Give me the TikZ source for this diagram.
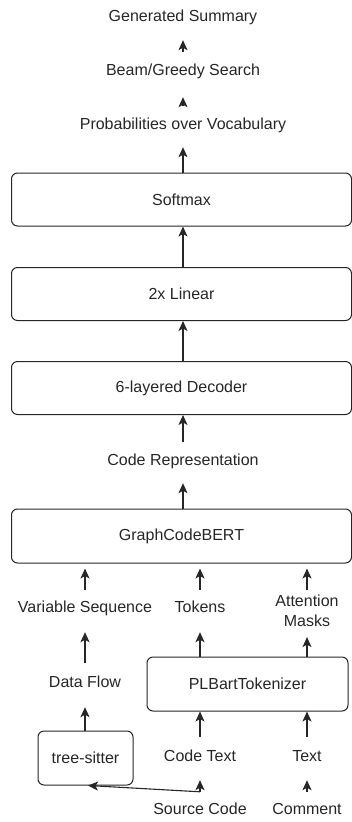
\documentclass[tikz,border=0pt]{standalone}
\usepackage{fontspec}
\setmainfont{Liberation Sans}
\usetikzlibrary{arrows.meta,calc}
\begin{document}
\begin{tikzpicture}[x=1pt,y=-1pt,
  every node/.style={text=black!85},
  lbl/.style={font=\fontsize{16}{20}\selectfont, inner sep=0pt, text height=11pt, text depth=4pt},
  lbl2/.style={font=\fontsize{16}{20}\selectfont, inner sep=0pt, align=center},
  blk/.style={draw=black!85, line width=1pt, rounded corners=6pt, font=\fontsize{16}{20}\selectfont, inner sep=0pt},
  arr/.style={draw=black!85, line width=1.1pt, -{Stealth[length=10pt,width=9pt,inset=2.5pt]}}
]
\useasboundingbox (0,0) rectangle (351,822);

% top text labels
\node[lbl] (gen)  at (183,18)  {Generated Summary};
\node[lbl] (beam) at (183,72)  {Beam/Greedy Search};
\node[lbl] (prob) at (183,126) {Probabilities over Vocabulary};

% main blocks
\node[blk, minimum width=340pt, minimum height=53pt] (softmax) at (181.5,199.5) {Softmax};
\node[blk, minimum width=340pt, minimum height=53pt] (linear)  at (181.5,294) {2x Linear};
\node[blk, minimum width=340pt, minimum height=53pt] (decoder) at (181.5,388) {6-layered Decoder};
\node[lbl] (coderep) at (183,462) {Code Representation};
\node[blk, minimum width=340pt, minimum height=54pt] (gcb) at (181.5,536) {GraphCodeBERT};

% inputs
\node[lbl] (varseq) at (85,609) {Variable Sequence};
\node[lbl] (tokens) at (200,609) {Tokens};
\node[lbl2] (attn) at (307,611) {Attention\\Masks};
\node[lbl] (dataflow) at (85,684) {Data Flow};
\node[blk, minimum width=201pt, minimum height=54pt] (plbart) at (247.5,684) {PLBartTokenizer};
\node[blk, minimum width=95pt, minimum height=54pt] (tree) at (85.5,758) {tree-sitter};
\node[lbl] (codetext) at (200,758) {Code Text};
\node[lbl] (text) at (307,758) {Text};
\node[lbl] (source) at (200,811) {Source Code};
\node[lbl] (comment) at (307,811) {Comment};

% connectors (top part)
\draw[arr, shorten <=12.5pt, shorten >=14.5pt] (beam) -- (gen);
\draw[arr, shorten <=12.5pt, shorten >=17.5pt] (prob) -- (beam);
\draw[arr, shorten >=13.5pt] (softmax.north -| prob) -- (prob.south);
\draw[arr] (linear.north -| prob) -- (softmax.south -| prob);
\draw[arr] (decoder.north -| prob) -- (linear.south -| prob);
\draw[arr, shorten <=12.5pt] (coderep.north) -- (decoder.south -| coderep);
\draw[arr, shorten >=13.5pt] (gcb.north -| coderep) -- (coderep.south);

% into GraphCodeBERT
\draw[arr, shorten <=11.5pt, shorten >=5pt] (varseq.north) -- (gcb.south -| varseq);
\draw[arr, shorten <=11.5pt, shorten >=5pt] (tokens.north) -- (gcb.south -| tokens);
\draw[arr, shorten <=5pt, shorten >=5pt] (attn.north) -- (gcb.south -| attn);

% lower part
\draw[arr, shorten <=13.5pt, shorten >=15.5pt] (dataflow) -- (varseq);
\draw[arr, shorten >=15.5pt] (plbart.north -| tokens) -- (tokens.south);
\draw[arr, shorten >=10pt] (plbart.north -| attn) -- (attn.south);
\draw[arr, shorten >=15.5pt] (tree.north -| dataflow) -- (dataflow.south);
\draw[arr, shorten <=13.5pt] (codetext.north) -- (plbart.south -| codetext);
\draw[arr, shorten <=13.5pt] (text.north) -- (plbart.south -| text);
\draw[arr, shorten <=11.5pt, shorten >=14.5pt] (source) -- (codetext);
\draw[arr, shorten <=11.5pt, shorten >=14.5pt] (comment) -- (text);
\draw[arr] ([yshift=11.5pt]source.north) -- ([xshift=2.5pt]tree.south);
\end{tikzpicture}
\end{document}
